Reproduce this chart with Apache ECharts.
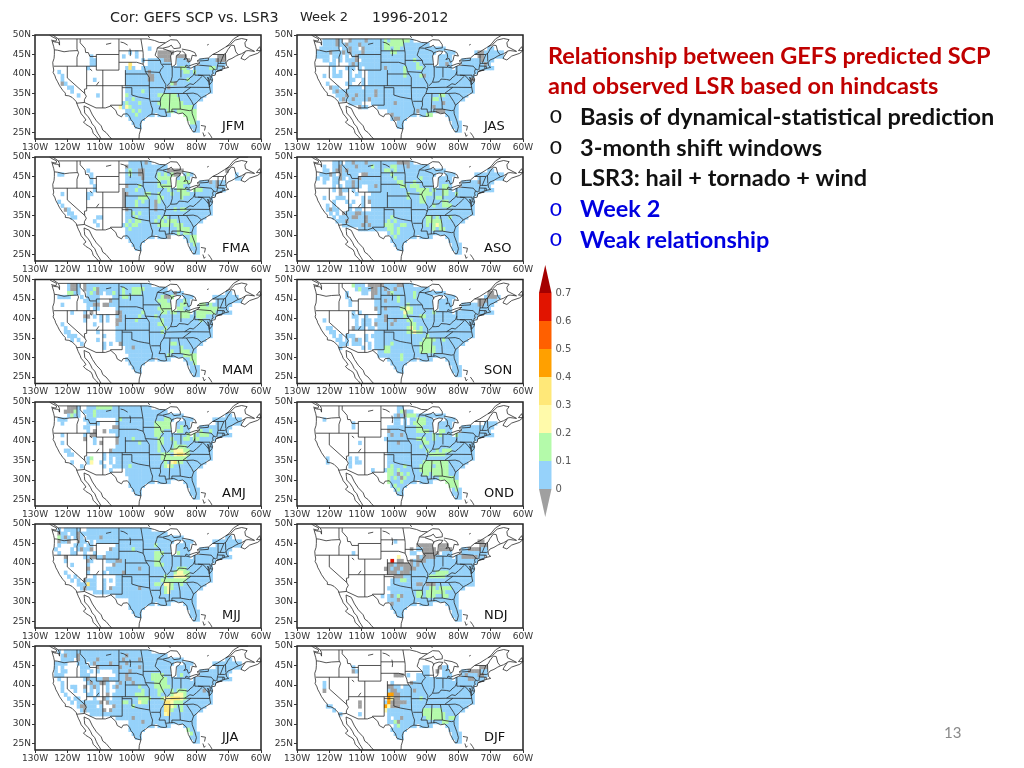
<!DOCTYPE html>
<html>
<head>
<meta charset="utf-8">
<style>
  html, body { margin: 0; padding: 0; background: #fff; }
  #chart { width: 1024px; height: 768px; }
</style>
<script src="https://cdn.jsdelivr.net/npm/echarts@6/dist/echarts.min.js"></script>
</head>
<body>
<div id="chart"></div>
<script>
// correlation class of each 1x1 degree box
// rows run 48N..25N, columns start at 125W, blocks of ten columns
// . none, 0 below 0, 1 0-0.1, 2 0.1-0.2, 3 0.2-0.3, 4 0.3-0.4, 5 0.4-0.5, 6 0.5-0.6, 7 0.6-0.7
const jfm = [
  "",
  "",
  ".......... .......... .......... 1",
  ".......... .......... ....1.1... ...00000",
  ".......... ..1....... ..1...1... ...0000..0 00........ ..00",
  ".......... ..11...... ........1. 1111100..1 110...1111 1000",
  ".......... ..11...... ....4..... 1111111..1 111...1111 1111",
  ".......... .1........ ...141..11 1111111111 221.111112 211",
  "..1....... .......... ...1111111 0111111111 1221211111 1",
  "...1...... .......... ...1111111 0011111111 1111111111",
  "...1...... ...1...... ...1111111 0011111111 1121111111",
  "...01..... .......... ...1111111 1111111201 1111111111",
  ".....11... .......... ...1111111 1111110111 1111111111",
  "......1... .......... ...1111121 1111111111 1111111111",
  "........1. ....1..... ...2111111 1112222221 11111111",
  ".......... .......... ...1121111 1111222222 1111111",
  ".......... .......... ..12111211 1112222222 21111",
  ".......... .......... .313211111 1111222222 22221",
  ".......... .......... ...1121211 1111112212 22222",
  ".......... .......... ...1112111 11.1111... .2222",
  ".......... .......... ....11111. .......... ..222",
  ".......... .......... .....111.. .......... ...221",
  ".......... .......... ......11.. .......... ...111",
  ".......... .......... .......... .......... ....11"
]
const fma = [
  ".......... .......... ....111110 1",
  ".......... .......... ...0111111 111111",
  ".......... .1........ ...1211001 1111110000 0......... ....0",
  "..11...... ..1....... ...1211001 1112121200 .121...... .......1",
  ".......... ..1....... ...1111101 1112222..1 221....... .......11",
  ".......... ..1....... ...1111111 1112112..2 222...1110 1011",
  ".......... ...1...... ...0111211 1112222..2 211...1111 1011",
  ".......... ...1...... ..01112111 1111112112 221.222111 1111",
  "...1...... .11....... ..00111112 2112111211 2221111111 1",
  ".......... .1........ ..01111222 1112211111 2111111111",
  "..1....... .......... ..01112121 1102111111 1111111111",
  "...1...... .......... ..01112111 1101111111 1111111111",
  "....01.... .......... ...0111111 1101111121 2211111111",
  ".....11... .......... ...1121211 1111111111 1111111111",
  "......11.. ....11.... ...1112111 1112121111 11111111",
  ".......... ...1...... ...1212211 1121212221 1111111",
  ".......... ....1..... ..12122111 1112222122 21111",
  ".......... .......... ...1211111 1111111112 22211",
  ".......... .......... ...1111111 1111111112 12211",
  ".......... .......... ...1111111 11.1110... .1122",
  ".......... .......... ....11111. .......... ..122",
  ".......... .......... .....111.. .......... ...121",
  ".......... .......... ......11.. .......... ...111",
  ".......... .......... .......... .......... ....11"
]
const mam = [
  ".....1001. 0111111111 1111111111 1",
  ".....1001. 0112011111 1121122221 111111",
  ".....2211. .12101.112 1121122211 1111111101 1......... ....11",
  "..1111...1 .1111....1 1122111111 11112002.. .111...... 11111111",
  ".......... 11111...01 1111111111 1112221..1 121....... .11111111",
  "...1...... .1100.0011 1111111111 1111222..1 221...2212 111111",
  ".......... .1.11..... 1111111111 1112222..2 211...2222 22111",
  "......1... 1.0....... 0011111121 1111221221 222.122222 211111",
  ".......... 00.1.1.1.. 1011111211 1121111111 2221122211 1",
  ".......... 1....1.1.. 0011112111 1111211111 1111112111",
  "...1...... ...1...... 0111111111 1112211111 1111111111",
  "....1..... .......... 1111111111 1111121111 1111111111",
  "....11.... ....1..... 1111111111 1111211111 1111111111",
  ".....111.. ......1... 1111111111 1111111111 1111111111",
  "......1.1. ....1..... 1111111111 1111111111 11111111",
  ".........1 ......1.1. .011111111 1111111221 1111111",
  ".......... ......1... ...1101111 1111111111 21111",
  ".......... .......... ...1111111 1111111211 22211",
  ".......... .......... ....111111 1111112111 12222",
  ".......... .......... ...1111111 11.1111... .1122",
  ".......... .......... ....11111. .......... ..112",
  ".......... .......... .....111.. .......... ...111",
  ".......... .......... ......11.. .......... ...111",
  ".......... .......... .......... .......... ....11"
]
const amj = [
  ".....0001. .111222221 1111111111 1",
  "....00021. 1112111111 1111111111 111111",
  ".....1211. .112111111 1111111111 1111111111 1......... ....11",
  "..111..... 1111...... 1211111111 11111221.. .111...... 111111111",
  "...1...... .1111..... 1111111111 1122222..1 111....... .11111111",
  ".......... 11.......0 0111111111 1122222..1 211...1111 111111",
  ".......... .1.0..0.11 1111111111 1122211..2 211...2112 11111",
  "...1...... 1.00...... 1111111111 1122111111 112.212221 111111",
  ".......... 0..1...... 0111121111 1112211211 1221221111 1",
  "...1...... ...1.0.... 0111111211 1112211121 1111111111",
  ".......... .......... 1111111111 1112111122 2211111111",
  "....11.... ........01 1111111111 1112111233 3221111111",
  ".....11... ......1.11 1111111111 1111222134 4321111111",
  ".......... .12...1.1. 1111111111 1111222222 2211111111",
  "......1... .13..1..1. 1111111111 1111121342 21111111",
  ".........1 ......1..1 1111211111 1111123211 1111111",
  ".......... ........1. ...1111111 1111111111 11111",
  ".......... .......... ...1111111 1111111111 11111",
  ".......... .......... ....111111 1111111111 11111",
  ".......... .......... ....111111 11.1111... .1111",
  ".......... .......... ....11111. .......... ..111",
  ".......... .......... .....111.. .......... ...111",
  ".......... .......... ......11.. .......... ...111",
  ".......... .......... .......... .......... ....11"
]
const mjj = [
  "..1.11111. .111111111 1111111111 1",
  "..011.1101 1111111111 1111111111 111111",
  "..2101.101 .111101111 1111111111 1111111111 1......... ....11",
  "..0110..01 1.1.111111 1111111111 11111111.. .111...... 111111111",
  "..1....111 .11....... 1111111111 1121111..1 111....... .11111111",
  ".1....1.10 110.....01 1111121111 1111111..1 111...1111 111111",
  "..1...11.. 1..1...111 1111111111 1122211..2 111...1111 11111",
  "....0..... 1100110111 1111111111 1122111111 111.111111 111111",
  "....1..... .01....111 0011111111 1122111111 1111111111 1",
  "......1... .1.......0 1111111111 1122211111 1111111111",
  ".......... .0.....111 1111111011 1111111112 2211111111",
  "....1..... .1....1.11 1101111111 1111111123 3221111111",
  ".....1.1.. ...1...... 1111111111 1111121133 3321111111",
  "......1.1. 0111..1.1. 1111111111 1111222222 2211111111",
  "........11 1411..1... 1111111111 1122133211 21111111",
  ".........1 0111..1.01 1111111011 1111123211 1111111",
  ".......... ...1111111 1111111111 1111123111 11111",
  ".......... .......... 1111111111 1111111111 11111",
  ".......... .......... ....111111 1111111111 11111",
  ".......... .......... ....111111 11.1111... .1111",
  ".......... .......... ....11111. .......... ..111",
  ".......... .......... .....111.. .......... ...111",
  ".......... .......... ......11.. .......... ...111",
  ".......... .......... .......... .......... ....11"
]
const jja = [
  "..1.111111 1111111111 1111111111 1",
  "...1011101 1111111111 1110111111 111111",
  "...1111.01 1111011111 1101111011 1111111111 1......... ....11",
  ".1111...11 1.10111101 1110111111 11111111.. .111...... 111111111",
  ".1.1.....1 11..011111 1011111011 1111111..1 111....... .11111111",
  ".1.11....1 1.1.1....1 1111011111 1111111..1 111...1111 111111",
  ".111.....1 11........ 1110111111 1222211..1 211...1111 11111",
  "..1....... 1011110011 1110011111 1222221111 111.111111 111111",
  "...1...... .1011001.. 1011101111 1122221111 1111111111 1",
  "...1..11.. 0.101..1.1 0111111211 1122222111 1111111111",
  "...1...1.. 1.1.1..1.. 1111111121 1112211212 2211111011",
  "....1..... .11.1..0.1 1111112221 1112111233 3211111111",
  ".....1.11. ...1..01.1 1111111222 2111233444 3211111111",
  "......1.11 111110.011 1122111322 1111144322 2111111111",
  "........10 0111.1...0 1111121111 1111144321 21111111",
  ".........1 0111110.01 1111111111 1111144211 2111111",
  ".......... ..11111111 1111111111 1111134111 11111",
  ".......... .......... 1111101111 1111111111 11111",
  ".......... .......... ....111101 1111111111 11111",
  ".......... .......... ....111111 11.1111... .1111",
  ".......... .......... ....11111. .......... ..211",
  ".......... .......... .....111.. .......... ...211",
  ".......... .......... ......11.. .......... ...111",
  ".......... .......... .......... .......... ....11"
]
const jas = [
  "...111101. .011110111 1121222222 1",
  "...1111011 0111011111 1122222211 111111",
  "..111111.1 1011.01111 1122122111 1111111111 1......... ....11",
  ".111101110 1011101111 1111221111 11111111.. .111...... 100111111",
  ".1111.111. 1.10111111 1111111111 1111111..1 111....... .00111111",
  "...11.1.1. 1110.11111 1111111111 1211111..1 111...1111 110111",
  ".....11... .101111111 1111111111 1121111..1 101...1111 11101",
  "......1... 111.1.1111 1101111121 1122111111 111.111111 111111",
  "......1.1. .1..1..111 1111111121 1111111111 1111111111 1",
  "...1..111. .1.11..111 1111111121 1112011111 1111111111",
  ".......... .11..1.111 1111111111 1111111111 1111111110",
  "....1..... 11...1.111 1111111111 1111111111 1111111111",
  ".....011.. .1111.1111 1111111111 1111111111 1111111111",
  "......1011 1111111110 1111111111 1111111111 1111111111",
  ".......111 0110111110 1111111111 1111111112 21111111",
  "........10 1101111011 1111111111 1111111221 1111111",
  ".......... .1111...11 1111101111 1111111111 01111",
  ".......... ....011... 1111111111 1111111011 11111",
  ".......... .......... ...1111111 1101111100 01111",
  ".......... .......... ....011111 11.1122... .1111",
  ".......... .......... ....10011. .......... ..111",
  ".......... .......... ......11.. .......... ...111",
  ".......... .......... ......11.. .......... ...111",
  ".......... .......... .......... .......... ....11"
]
const aso = [
  "......111. 1101110111 1111110000 1",
  "...1..1101 1110111121 1111221110 111111",
  "...11.1001 0111111111 1122121111 1111111111 1......... ....11",
  "..11101.01 1111.00111 1111211111 11111111.. .111...... 111111111",
  ".1.11.1101 .111011111 1111121111 1112111..1 111....... .11111111",
  "...1..11.. 1101111111 1111112211 1211111..1 111...1111 101111",
  "......1.1. 11011..110 1111111221 2221111..1 221...1111 11111",
  "......1.01 1.1....111 1111111111 1122221211 221.111111 111111",
  "........0. ...1....11 1111111112 1112222111 2211211111 1",
  "...1...111 .....1.111 1111111112 1112211122 1111111111",
  "......1... 1.1..1.011 1111111111 1112211111 2211111111",
  "....1.1... .1...1..11 1111111111 1111111211 2221111111",
  "....1011.. .1.11...11 1111111111 1111111111 1111111111",
  ".....1.1.0 1110011111 1111111111 1111111111 1111111111",
  "......1.11 1100110111 1111211111 1111122121 11211111",
  ".......111 0111110111 1112121111 1111122222 1111111",
  ".........1 1111101011 1122211221 1111121232 11111",
  ".......... ....111111 1112212111 1111111212 21111",
  ".......... .......... ...1212111 1111111111 11111",
  ".......... .......... ....121111 11.1111... .1111",
  ".......... .......... ....11111. .......... ..111",
  ".......... .......... .....111.. .......... ...111",
  ".......... .......... ......11.. .......... ...111",
  ".......... .......... .......... .......... ....11"
]
const son = [
  ".......... ..2111.000 0011110011 1",
  ".......... ...1211100 1101101111 111111",
  ".......... 1....11.00 1110211111 1211111111 1......... ....00",
  ".......... 1.......01 1111112111 1211111... .111...... ...10001",
  ".......... .1.......1 1101112111 1111111..1 111....... .000111",
  ".......... .1.......1 1111111112 1111111..1 111...1111 100111",
  ".......... .........0 1101111223 2111111..1 111...1111 11111",
  ".......... ..1.1..... 1111111132 2111111211 111.111111 111111",
  ".......... ..11..1... 1101111121 1112211111 1111111111 1",
  "...1...... ...1.111.1 1101101112 2111111111 1111111111",
  ".......... ...1.111.0 1111011111 2211111111 1111111111",
  "....11.... ..0111.11. 1111111112 3212111111 1111111111",
  ".....11... .........1 1111111112 2322111111 1111111111",
  "......1.1. 111...1.11 1111111111 1111121111 1111111111",
  ".......11. 1.101.1..1 1111111111 1111222211 21111111",
  "........11 1.111..1.1 1111211111 1112222111 1111111",
  "........1. .....1.1.1 1122111111 1112222211 11111",
  ".......... .......... 1122111111 1112222211 11111",
  ".......... .......... 1111111211 1111111111 11111",
  ".......... .......... ...1111211 11.1111... .1111",
  ".......... .......... ....11111. .......... ..111",
  ".......... .......... .....111.. .......... ...111",
  ".......... .......... ......11.. .......... ...111",
  ".......... .......... .......... .......... ....11"
]
const ond = [
  ".......... .......... ......11..",
  ".......... .......... ......1201 1",
  ".......... .......... .....10102 2211111111 1",
  "...1...... .......... .....11.1. 1122211... .111",
  ".......... ..1....... .....11.1. 1222211..1 111....... ...1111",
  ".......... ..1....... ...1111111 1122111..1 111...1111 111111",
  ".......... .......... ...0111111 1122221..2 211...1111 11111",
  ".......... .......... ...1011011 1111111212 111.211111 111111",
  ".......... .......... ..11111111 1122211211 1111111111 1",
  ".......... ....1..... ...1110111 1111221111 1111111111",
  ".......... .......... ...1111111 1112111111 1111111111",
  ".......... .......... ...1111111 1111121121 2221111111",
  ".......... .......... ...1111111 1111112222 2111111111",
  "....1..... .1.1...... ...1111111 1111111111 1111111111",
  "....1..... .1.11..... ...1111111 1111222222 22111111",
  ".......... .1........ ...1211121 1112222122 2211111",
  ".......... ........1. ..12212111 1112222222 22111",
  ".......... .......... ...2210212 1111221222 22111",
  ".......... .......... ...2121021 1111111112 22221",
  ".......... .......... ...2111211 11.1111... .2222",
  ".......... .......... ....12111. .......... ..222",
  ".......... .......... .....121.. .......... ...121",
  ".......... .......... ......11.. .......... ...111",
  ".......... .......... .......... .......... ....11"
]
const ndj = [
  "",
  "",
  "",
  ".......... .......... .....1.... .......... .......... .00",
  ".......... .......... .......... ..00000..0 00........ ..00",
  ".......... .......... .......... 0.110000.0 000...1100 0011",
  ".......... ..1....... .......... 11..00000. 111...1111 1111",
  ".......... .......... ......3... ..01000011 111.110000 011",
  ".......... .......... ....7.00.. 0100011111 1111111111 1",
  ".......... .......... ...0010000 0101111111 1111111111",
  ".......... .......... ..00100100 0011111111 1111111111",
  ".......... .......... ...0001000 1111111122 2211111111",
  ".......... .......... .....00011 1111112222 2111111111",
  ".......... .......... ....111221 1111111111 1111111111",
  ".......... .......... ....111111 1100100011 1111111111",
  ".......... .......... ...1111111 1111112212 2221111",
  ".......... .......... ....111111 1122122222 21111",
  ".......... .......... .1.1012011 1122122211 22111",
  ".......... .......... ...1110111 1111111111 11111",
  ".......... .......... ....011111 11.1111... .1111",
  ".......... .......... ....11111. .......... ..111",
  ".......... .......... .....111.. .......... ...111",
  ".......... .......... ......11.. .......... ...111",
  ".......... .......... .......... .......... ....11"
]
const djf = [
  "",
  "",
  "",
  "",
  ".......... ..1....... .......... ....11...0 11........ ..00",
  ".......... ..01...... .......... ....11..0. 11....1100 0011",
  ".......... .......... .....000.1 ..1111.... 111...1011 1001",
  ".......... .......... .......... ..11111111 111.111100 111",
  "...1...... .......... ....1..... 0111111111 1111111111 1",
  "...1...... .......... ...0011.11 1111111111 1111111111",
  "...0...... .......... ...1001111 1011111111 1111111111",
  ".......... .......... ...5500111 1111111111 1111111111",
  ".......... .......... ...5300111 1112111111 1111111111",
  ".......... ....0..... ..15000001 1111111111 1111111111",
  "....11.... ....0..... ..53000111 1111111111 11111111",
  "......1... .......... ..31111111 1111222222 1111111",
  "........1. ....1..... ...1111111 1111222222 21111",
  ".......... .......... ...1.11011 1111122222 21221",
  ".......... .......... ...1120111 1111111111 22111",
  ".......... .......... .....12111 11.1111... .1111",
  ".......... .......... ....11111. .......... ..111",
  ".......... .......... .....111.. .......... ...111",
  ".......... .......... ......11.. .......... ...111",
  ".......... .......... .......... .......... ....11"
]

const leftNames = ['JFM', 'FMA', 'MAM', 'AMJ', 'MJJ', 'JJA']
const leftCells = [jfm, fma, mam, amj, mjj, jja]
const rightNames = ['JAS', 'ASO', 'SON', 'OND', 'NDJ', 'DJF']
const rightCells = [jas, aso, son, ond, ndj, djf]

const levelColors = ['#a0a0a0', '#96d2fa', '#b4faaa', '#fffaaa', '#ffe878', '#ffa000', '#ff6000', '#e11400']
const barEdges = [-0.1, 0, 0.1, 0.2, 0.3, 0.4, 0.5, 0.6, 0.7, 0.8]
const barColors = ['#a0a0a0', '#96d2fa', '#b4faaa', '#fffaaa', '#ffe878', '#ffa000', '#ff6000', '#e11400', '#a50000']
const barLabels = [0, 0.1, 0.2, 0.3, 0.4, 0.5, 0.6, 0.7]
const latTicks = [25, 30, 35, 40, 45, 50]

// coast and border lines, lon/lat
const coasts = [
  [[-122.8,49],[-122.4,48.3],[-122.4,47.4],[-122.8,47.2],[-122.7,48.1],[-123.8,48.2],[-124.7,48.4],[-124.2,47],[-124,46.2],[-124,45],[-124.1,44],[-124.5,43],[-124.4,42],[-124.2,41],[-124.4,40.4],[-123.8,39.5],[-123.6,38.9],[-123,38],[-122.5,37.7],[-122.4,37],[-121.9,36.6],[-121.4,35.8],[-120.6,35.1],[-120.6,34.5],[-119.5,34.4],[-118.5,34],[-118,33.6],[-117.3,33],[-117.1,32.5],[-116.6,31.5],[-116,30.5],[-115.7,29.8],[-114.9,29],[-114.2,28.2],[-114.1,27.8],[-115,27.7],[-114.3,27.1],[-113.5,26.7],[-112.6,26.2],[-112.2,25.5],[-112,24.8],[-111,24],[-110.3,23.3]],
  [[-114.8,31.8],[-114.7,30.9],[-114.6,30],[-113.5,29],[-112.8,28.1],[-112.3,27.2],[-111.5,26.5],[-111,25.5],[-110.6,24.8],[-110.1,24.2],[-109.5,23.3]],
  [[-114.8,31.8],[-113.2,31.2],[-112.2,29.5],[-111,28],[-109.5,26.7],[-109,25.6],[-108,25],[-107,24],[-106.2,23.3]],
  [[-125,48.7],[-123.5,48.4],[-123.3,49],[-124.8,49.6],[-125.5,50]],
  [[-122.8,49],[-123.2,49.5],[-124.5,50]],
  [[-117.1,32.5],[-114.7,32.7],[-114.8,32.5],[-111.1,31.3],[-108.2,31.3],[-108.2,31.8],[-106.5,31.8],[-105,30.7],[-104.5,29.6],[-103.2,29],[-102.7,29.7],[-101.4,29.8],[-100.7,29.1],[-100.3,28.3],[-99.5,27.5],[-99.1,26.4],[-98.2,26.1],[-97.2,25.9]],
  [[-97.8,23.3],[-97.7,24.5],[-97.2,25.9],[-97.4,27],[-97,28],[-95.5,28.8],[-94.7,29.4],[-93.8,29.7],[-92,29.6],[-91,29.2],[-90,29.1],[-89.2,29.2],[-89.5,30.2],[-88,30.3],[-87,30.4],[-85.5,29.8],[-84.2,30],[-83,29.1],[-82.7,28],[-82.5,27.3],[-81.8,26.2],[-81.1,25.2],[-80.4,25.2],[-80,26.5],[-80.5,28],[-81.3,29.8],[-81.4,30.7],[-80.9,32],[-79.5,33],[-78.5,33.9],[-77.5,34.3],[-76.5,34.8],[-75.6,35.3],[-75.9,36.6],[-76.3,37],[-76.2,38],[-76.5,39.2],[-76,38.5],[-76,37.2],[-75.2,38],[-75,38.6],[-75.5,39.5],[-74.9,39.2],[-74.2,39.7],[-74,40.5],[-73.9,40.8],[-72.2,41.2],[-71,41.5],[-70,41.7],[-70.7,42.2],[-70.8,42.9],[-70.2,43.6],[-69,44],[-67.8,44.6],[-67,44.9],[-66,45.2],[-64.8,45.8],[-65.8,44.6],[-66.2,44],[-65,43.6],[-63.5,44.6],[-61,45.3],[-60,46]],
  [[-74,40.6],[-72,41],[-73.5,40.9]],
  [[-64.8,45.9],[-64,46],[-62,45.8],[-64.8,47],[-65,48],[-64.3,48.8],[-66,49.1],[-68,48.7],[-69.5,47.5],[-71,46.9]],
  [[-71,46.9],[-70,47.5],[-68.5,49],[-66.5,50],[-64,50]],
  [[-60,46],[-60.4,47],[-61.4,46],[-60,46]],
  [[-122.8,49],[-95.1,49],[-95.1,49.4],[-94.6,48.7],[-93,48.6],[-91.5,48.1],[-89.6,48]],
  [[-92.1,46.7],[-90.5,46.6],[-88.5,47],[-87.8,47.4],[-88,46.9],[-87,46.5],[-85,46.7],[-84.6,46.5],[-85,47.5],[-86,48.7],[-88,48.8],[-89.6,48],[-91.5,47],[-92.1,46.7]],
  [[-84.8,45.8],[-86,45.9],[-87.5,45.5],[-88,44.6],[-87.4,44.9],[-87.8,43],[-87.6,41.7],[-87,41.7],[-86.4,42.5],[-86.3,43.6],[-86.2,44.7],[-85.5,45],[-84.8,45.8]],
  [[-84.5,46],[-83.5,45.3],[-83.3,44.3],[-83.9,43.7],[-82.9,44],[-82.5,43],[-81.7,43.4],[-81.3,44.8],[-80,44.6],[-80.5,45.5],[-82,46],[-84.5,46.4]],
  [[-83.4,41.8],[-81.7,41.5],[-79.8,42.3],[-78.9,42.9],[-80.5,42.6],[-82.5,42],[-83.2,42.3],[-83.4,41.8]],
  [[-79.8,43.3],[-78,43.4],[-76.3,43.5],[-76.3,44.1],[-77.5,44],[-79,43.8],[-79.8,43.3]],
  [[-76.3,44.1],[-75,45],[-71.5,45],[-70.8,45.4],[-70.3,46.2],[-70,46.7],[-69.2,47.4],[-68.3,47.3],[-67.8,47],[-67.8,45.7],[-67,44.9]],
  [[-75,45],[-73.5,45.6],[-71.2,46.8]]
]
const stateLines = [
  [[-124,46.2],[-123,46.1],[-122.7,45.7],[-121,45.7],[-119.3,45.9],[-116.9,46]],
  [[-117,49],[-117,46.4],[-116.9,46],[-116.5,45.5],[-117,44.3],[-117,42]],
  [[-124.2,42],[-111,42]],
  [[-120,42],[-120,39],[-114.6,35],[-114.1,34.3],[-114.7,33.4],[-114.7,32.7]],
  [[-114,42],[-114,36.2],[-114.7,36.1],[-114.6,35]],
  [[-114,37],[-94.6,37]],
  [[-109,41],[-109,31.3]],
  [[-111,45],[-111,41],[-104,41],[-104,45],[-111,45]],
  [[-116,49],[-116,48],[-114.5,46.6],[-114.3,45.5],[-113.5,45.5],[-113,44.5],[-111,44.5]],
  [[-104,49],[-104,45]],
  [[-104,45.94],[-96.6,45.94]],
  [[-104,43],[-98.5,43],[-96.5,42.5]],
  [[-102,41],[-102,37]],
  [[-102,40],[-95.3,40]],
  [[-103,37],[-103,32],[-106.6,32],[-106.6,31.8]],
  [[-103,36.5],[-100,36.5],[-100,34.6],[-98,34.1],[-96,33.8],[-94.5,33.6]],
  [[-97.2,49],[-96.6,46],[-96.5,45.3],[-96.5,42.5]],
  [[-96.5,43.5],[-91.2,43.5]],
  [[-92.1,46.7],[-92.3,46],[-92.8,45.5],[-92.8,44.8],[-91.2,43.5]],
  [[-96.5,42.5],[-96,41.5],[-95.8,40.6],[-95.3,40],[-94.6,39.1],[-94.6,36.5],[-94.5,33.6],[-94,33.6],[-94,31.9],[-93.6,31],[-93.8,29.7]],
  [[-95.8,40.6],[-91.4,40.4]],
  [[-91.2,43.5],[-91,42.7],[-90.2,41.8],[-91,41.2],[-91.4,40.4],[-91.5,39.9],[-90.7,39],[-90.2,38.7],[-89.5,37.3],[-89.1,37],[-89.5,36.5],[-89.7,36],[-90.1,35],[-91,33.9],[-91.2,33],[-91.1,32],[-91.6,31],[-89.7,31],[-89.6,30.2]],
  [[-90.6,42.5],[-87.8,42.5]],
  [[-90.4,46.5],[-88,45.8],[-87.6,45.1]],
  [[-87.5,41.7],[-87.5,39.3],[-88,37.9]],
  [[-89.1,37],[-88,37.9],[-87,37.9],[-86,38],[-85.4,38.7],[-84.8,39.1],[-83.7,38.6],[-82.6,38.4],[-82,39],[-80.9,39.7],[-80.5,40.6]],
  [[-84.8,39.1],[-84.8,41.7]],
  [[-87,41.75],[-84.8,41.75],[-83.4,41.7]],
  [[-80.5,42],[-80.5,39.7]],
  [[-79.8,42.3],[-79.8,42],[-75.4,42],[-75,41.5],[-74.7,41.3],[-75,40.7],[-74.8,40.1],[-75.4,39.8]],
  [[-80.5,39.7],[-75.8,39.7],[-75.7,38.5],[-75,38.45]],
  [[-79.5,39.7],[-79.5,39.2],[-78,39.6],[-77.5,39.2],[-77,38.8],[-76.3,38]],
  [[-82,37.5],[-81,37.3],[-80,38],[-78.8,38.9],[-78.3,39.4]],
  [[-83.7,36.6],[-82,37.5]],
  [[-89.5,36.5],[-83.7,36.6],[-75.9,36.55]],
  [[-94.6,36.5],[-90.2,36.5],[-90.2,36],[-89.7,36]],
  [[-90.1,35],[-84.3,35],[-83.1,35],[-81,35.1],[-79.7,34.8],[-78.5,33.9]],
  [[-84.3,35],[-83,35.8],[-81.7,36.6]],
  [[-83.1,35],[-82.7,34.5],[-81.5,33],[-80.9,32]],
  [[-85.6,35],[-85.1,32.8],[-85,31],[-84.8,30.7],[-82.2,30.6],[-81.5,30.7]],
  [[-87.6,30.3],[-87.6,31],[-85,31]],
  [[-88.2,35],[-88.4,31],[-88.4,30.3]],
  [[-94,33],[-91.2,33]],
  [[-73.3,45],[-73.3,42.7],[-73.5,42],[-73.7,41]],
  [[-73.5,42.05],[-71.4,42],[-71.2,41.5]],
  [[-73.3,42.74],[-71.3,42.7],[-70.8,42.9]],
  [[-71.5,45],[-72.5,43],[-72.5,42.7]],
  [[-71,45.3],[-70.9,43.2]],
  [[-71.8,42],[-71.8,41.3]],
  [[-74.7,41.3],[-73.9,41]]
]
const lakesAndIslands = [
  [[-108,47.6],[-106.4,47.9]],
  [[-103.5,48.2],[-102.5,48],[-101.3,47.4]],
  [[-100.6,46.5],[-100.4,45.5],[-100.5,44.6]],
  [[-113,41.3],[-112.3,40.8]],
  [[-111,37.1],[-110.2,38]],
  [[-95,49.7],[-94.4,49.3],[-94.4,49.8],[-95,49.7]],
  [[-76.7,47.4],[-76.2,47.6],[-76.2,47.2],[-76.7,47.4]],
  [[-88.6,49.9],[-88,49.6],[-88,50]],
  [[-78.6,26.8],[-77.2,26.6],[-77.5,25.5]],
  [[-78,25],[-77.6,24],[-77.2,24.4]],
  [[-76.3,25],[-75.6,24.2],[-75.2,23.6]]
]

// all outlines in one line, broken by empty points
function outlineData() {
  let out = []
  coasts.concat(stateLines, lakesAndIslands).forEach(line => {
    line.forEach(p => out.push(p))
    out.push(['-', '-'])
  })
  return out
}

function cellData(rows) {
  let out = []
  rows.forEach((row, i) => {
    let chars = row.replace(/ /g, '')
    for (let c = 0; c < chars.length; c++) {
      if (chars[c] !== '.') out.push([-125 + c + 0.5, 48 - i + 0.5, +chars[c]])
    }
  })
  return out
}

const panelTops = [35, 157, 279.5, 402, 524, 646]
const panelHeight = 104
const panelWidth = 226
const fontName = '"DejaVu Sans", sans-serif'

let grids = [], xAxes = [], yAxes = [], series = [], graphics = []

function addPanel(name, rows, left, top) {
  let idx = grids.length
  grids.push({ left: left, top: top, width: panelWidth, height: panelHeight, show: true, borderColor: '#222', borderWidth: 1.5, backgroundColor: '#fff' })
  xAxes.push({
    gridIndex: idx, type: 'value', min: -130, max: -60, interval: 10,
    splitLine: { show: false }, axisLine: { show: false },
    axisTick: { show: true, length: 3, lineStyle: { color: '#333' } },
    axisLabel: { color: '#333', fontSize: 9, fontFamily: fontName, margin: 4, hideOverlap: false, showMinLabel: true, showMaxLabel: true, formatter: v => Math.abs(v) + 'W' }
  })
  yAxes.push({
    gridIndex: idx, type: 'value', min: 23.33, max: 50,
    splitLine: { show: false }, axisLine: { show: false },
    axisTick: { show: true, length: 3, lineStyle: { color: '#333' }, customValues: latTicks },
    axisLabel: { color: '#333', fontSize: 9, fontFamily: fontName, margin: 4, customValues: latTicks, formatter: v => v + 'N' }
  })
  series.push({
    type: 'scatter', xAxisIndex: idx, yAxisIndex: idx, symbol: 'rect', symbolSize: [3.7, 4.3],
    data: cellData(rows), silent: true, animation: false, z: 2,
    itemStyle: { opacity: 1, color: p => levelColors[p.value[2]] }
  })
  series.push({
    type: 'line', xAxisIndex: idx, yAxisIndex: idx, data: outlineData(), showSymbol: false, silent: true,
    animation: false, connectNulls: false, z: 3, lineStyle: { color: '#2a2a2a', width: 0.8 }
  })
  graphics.push({ type: 'text', left: left + 187, top: top + 85, style: { text: name, fill: '#111', font: '13px ' + fontName } })
}

leftNames.forEach((n, i) => addPanel(n, leftCells[i], 35, panelTops[i]))
rightNames.forEach((n, i) => addPanel(n, rightCells[i], 297, panelTops[i]))

// colour bar
let barIdx = grids.length
grids.push({ left: 539, top: 265, width: 12.5, height: 252 })
xAxes.push({ gridIndex: barIdx, type: 'value', min: 0, max: 1, show: false })
yAxes.push({
  gridIndex: barIdx, type: 'value', position: 'right', min: -0.1, max: 0.8, interval: 0.1,
  splitLine: { show: false }, axisLine: { show: false }, axisTick: { show: false },
  axisLabel: { color: '#555', fontSize: 10, fontFamily: fontName, margin: 4, customValues: barLabels, formatter: v => String(+v.toFixed(1)) }
})
series.push({
  type: 'custom', xAxisIndex: barIdx, yAxisIndex: barIdx, silent: true, animation: false,
  data: barColors.map((c, i) => [barEdges[i], barEdges[i + 1], i]),
  renderItem: (params, api) => {
    let lo = api.value(0), hi = api.value(1), i = api.value(2)
    let pts
    if (i === 0) pts = [api.coord([0, hi]), api.coord([1, hi]), api.coord([0.5, lo])]
    else if (i === barColors.length - 1) pts = [api.coord([0, lo]), api.coord([1, lo]), api.coord([0.5, hi])]
    else pts = [api.coord([0, lo]), api.coord([1, lo]), api.coord([1, hi]), api.coord([0, hi])]
    return { type: 'polygon', shape: { points: pts }, style: { fill: barColors[i] } }
  }
})

// headline pieces
const titleParts = [['Cor: GEFS SCP vs. LSR3', 110, 14.3], ['Week 2', 300, 13], ['1996-2012', 372, 14]]
titleParts.forEach(t => {
  graphics.push({ type: 'text', left: t[1], top: 11, style: { text: t[0], fill: '#222', font: t[2] + 'px ' + fontName } })
})

// text block on the right
const noteLines = [
  ['Relationship between GEFS predicted SCP', '#c00000', false],
  ['and observed LSR based on hindcasts', '#c00000', false],
  ['Basis of dynamical-statistical prediction', '#111', true],
  ['3-month shift windows', '#111', true],
  ['LSR3: hail + tornado + wind', '#111', true],
  ['Week 2', '#0000e0', true],
  ['Weak relationship', '#0000e0', true]
]
const noteFont = 'bold 23.5px Lato, sans-serif'
noteLines.forEach((l, i) => {
  let y = 56 + i * 30.7
  if (l[2]) {
    graphics.push({ type: 'text', x: 549, y: y, style: { text: 'o', fill: l[1], font: '23px "Liberation Mono", monospace', textVerticalAlign: 'middle' } })
    graphics.push({ type: 'text', x: 580, y: y, style: { text: l[0], fill: l[1], font: noteFont, textVerticalAlign: 'middle' } })
  } else {
    graphics.push({ type: 'text', x: 548, y: y, style: { text: l[0], fill: l[1], font: noteFont, textVerticalAlign: 'middle' } })
  }
})
graphics.push({ type: 'text', x: 944, y: 733, style: { text: '13', fill: '#8a8a8a', font: '15px Lato, sans-serif', textVerticalAlign: 'middle' } })

let chart = echarts.init(document.getElementById('chart'), null, { renderer: 'canvas' })
chart.setOption({
  backgroundColor: '#fff',
  animation: false,
  grid: grids,
  xAxis: xAxes,
  yAxis: yAxes,
  series: series,
  graphic: graphics
})
</script>
</body>
</html>
